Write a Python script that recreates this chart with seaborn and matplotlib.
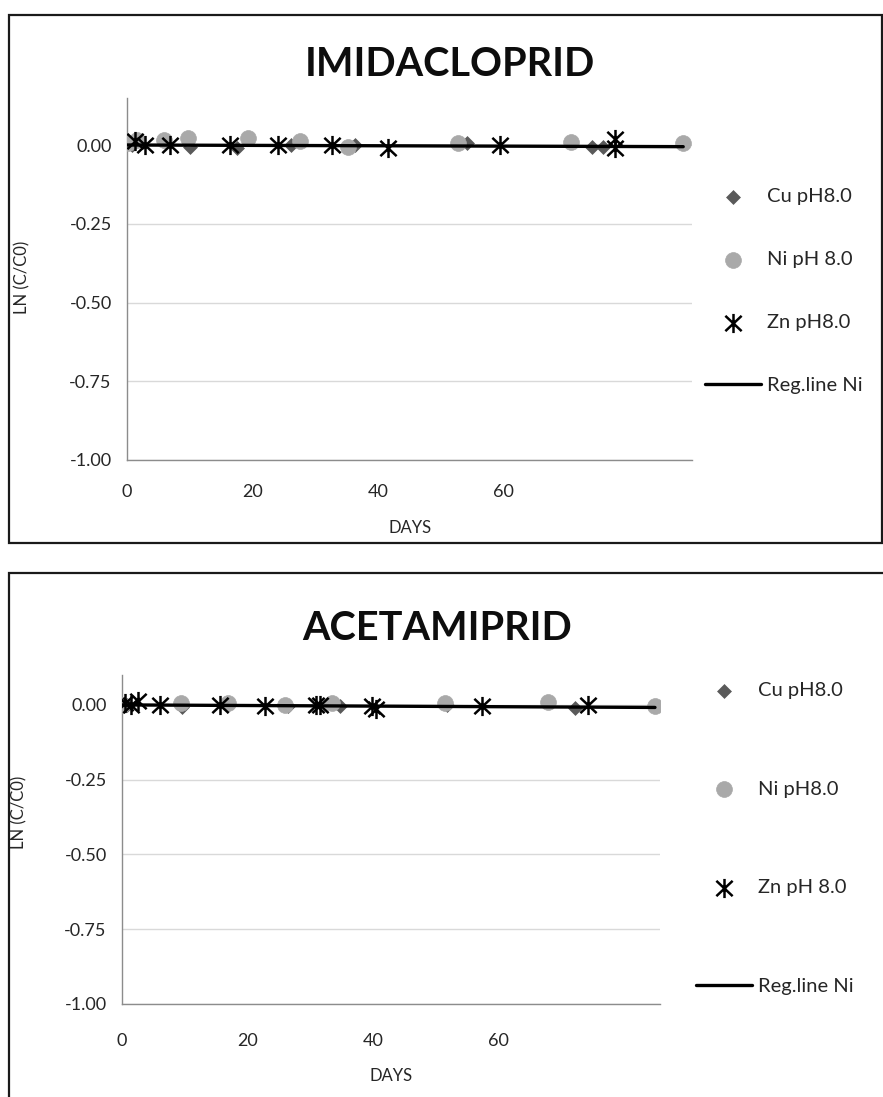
import numpy as np
import pandas as pd
import matplotlib
matplotlib.use("Agg")
import matplotlib.pyplot as plt
from matplotlib.path import Path
from matplotlib.patches import Rectangle
import seaborn as sns

# ---- IMIDACLOPRID: ln(C/C0) against time (days) ----
imi_cu_days = [0.8, 10.0, 17.6, 26.2, 36.3, 54.1, 74.0, 75.8]
imi_cu_ln = [0.0, -0.005, -0.010, 0.0, 0.0, 0.005, -0.005, -0.005]
imi_ni_days = [0.2, 1.6, 5.9, 9.7, 19.3, 27.5, 35.2, 52.7, 70.8, 88.6]
imi_ni_ln = [0.007, 0.015, 0.016, 0.022, 0.022, 0.013, -0.005, 0.007, 0.011, 0.005]
imi_zn_days = [1.3, 2.9, 6.8, 16.4, 24.1, 32.6, 41.6, 59.4, 77.7, 77.7]
imi_zn_ln = [0.013, 0.0, 0.0, 0.0, 0.0, 0.0, -0.010, 0.0, 0.020, -0.010]
imi_reg_intercept, imi_reg_slope = 0.0, -0.00006
imi_labels = ["Cu pH8.0", "Ni pH 8.0", "Zn pH8.0", "Reg.line Ni"]

# ---- ACETAMIPRID ----
ace_cu_days = [0.8, 9.6, 16.9, 26.4, 34.7, 51.8, 72.1]
ace_cu_ln = [0.0, -0.008, 0.0, -0.003, -0.003, 0.0, -0.010]
ace_ni_days = [0.0, 9.4, 16.9, 26.0, 33.4, 51.4, 67.9, 84.9]
ace_ni_ln = [0.0, 0.008, 0.005, 0.0, 0.005, 0.005, 0.010, -0.005]
ace_zn_days = [0.5, 1.4, 2.6, 6.1, 15.6, 22.8, 30.9, 31.5, 39.8, 40.4, 57.3, 74.3]
ace_zn_ln = [0.005, 0.0, 0.012, 0.0, 0.0, -0.005, 0.0, 0.0, -0.005, -0.015, -0.003, 0.0]
ace_reg_intercept, ace_reg_slope = 0.0, -0.0001
ace_labels = ["Cu pH8.0", "Ni pH8.0", "Zn pH 8.0", "Reg.line Ni"]

y_ticks = [-1.0, -0.75, -0.5, -0.25, 0.0]
x_ticks = [0, 20, 40, 60]

sns.set_theme(style="white")
plt.rcParams["font.family"] = ["Lato", "DejaVu Sans"]

W, H = 883, 1097
fig = plt.figure(figsize=(W / 100, H / 100), dpi=100)
fig.patch.set_facecolor("white")

TEXT = "#262626"
CU_COLOR = "#5a5a5a"
NI_COLOR = "#a9a9a9"
ZN_COLOR = "#000000"

# asterisk-like marker: vertical stroke plus an X
star = Path(
    [(0, -1), (0, 1), (-0.85, -0.8), (0.85, 0.8), (-0.85, 0.8), (0.85, -0.8)],
    [Path.MOVETO, Path.LINETO, Path.MOVETO, Path.LINETO, Path.MOVETO, Path.LINETO],
)


def px_axes(left, right, top, bottom):
    return fig.add_axes([left / W, 1 - bottom / H, (right - left) / W, (bottom - top) / H])


def draw_panel(ax, cu, ni, zn, reg, labels, xmax, ymax, legend_top, legend_left,
               spacing, xpad):
    cu_df = pd.DataFrame({"days": cu[0], "ln": cu[1]})
    ni_df = pd.DataFrame({"days": ni[0], "ln": ni[1]})
    zn_df = pd.DataFrame({"days": zn[0], "ln": zn[1]})
    sns.scatterplot(data=cu_df, x="days", y="ln", ax=ax, marker="D", s=50,
                    color=CU_COLOR, edgecolor=CU_COLOR, linewidth=0.5,
                    label=labels[0], zorder=3)
    sns.scatterplot(data=ni_df, x="days", y="ln", ax=ax, marker="o", s=130,
                    color=NI_COLOR, edgecolor=NI_COLOR, linewidth=0.5,
                    label=labels[1], zorder=4)
    sns.scatterplot(data=zn_df, x="days", y="ln", ax=ax, marker=star, s=190,
                    color=ZN_COLOR, edgecolor=ZN_COLOR, linewidth=1.8,
                    label=labels[2], zorder=5)
    reg_x = np.array([0.0, max(ni[0])])
    reg_df = pd.DataFrame({"days": reg_x, "ln": reg[0] + reg[1] * reg_x})
    sns.lineplot(data=reg_df, x="days", y="ln", ax=ax, color="black",
                 linewidth=2.4, label=labels[3], zorder=6)

    ax.set_xlim(0, xmax)
    ax.set_ylim(-1.0, ymax)
    ax.set_xticks(x_ticks)
    ax.set_xticklabels([str(v) for v in x_ticks])
    ax.set_yticks(y_ticks)
    ax.set_yticklabels([f"{v:.2f}" for v in y_ticks])
    ax.tick_params(axis="both", length=0, labelsize=13, colors=TEXT)
    ax.tick_params(axis="x", pad=xpad)
    ax.tick_params(axis="y", pad=11)
    ax.set_xlabel("")
    ax.set_ylabel("")
    ax.yaxis.grid(True, color="#d9d9d9", linewidth=1.0)
    ax.xaxis.grid(False)
    ax.set_axisbelow(True)
    for side in ("top", "right"):
        ax.spines[side].set_visible(False)
    for side in ("left", "bottom"):
        ax.spines[side].set_color("#8c8c8c")
        ax.spines[side].set_linewidth(1.0)
    ax.set_facecolor("none")

    handles, labs = ax.get_legend_handles_labels()
    ax.legend(handles, labs, loc="upper left",
              bbox_to_anchor=(legend_left / W, 1 - legend_top / H),
              bbox_transform=fig.transFigure, frameon=False,
              borderpad=0, borderaxespad=0, handlelength=2.8,
              handletextpad=0.3, labelspacing=spacing,
              prop={"size": 14.5}, labelcolor=TEXT)


# frames around each panel
fig.patches.append(Rectangle((9 / W, 1 - 543 / H), (882 - 9) / W, (543 - 15) / H,
                             transform=fig.transFigure, fill=False,
                             edgecolor="#1a1a1a", linewidth=1.6))
fig.patches.append(Rectangle((9 / W, 1 - 1200 / H), (1000 - 9) / W, (1200 - 573) / H,
                             transform=fig.transFigure, fill=False,
                             edgecolor="#1a1a1a", linewidth=1.6))

ax1 = px_axes(127, 692, 97.75, 460)
draw_panel(ax1, (imi_cu_days, imi_cu_ln), (imi_ni_days, imi_ni_ln),
           (imi_zn_days, imi_zn_ln), (imi_reg_intercept, imi_reg_slope),
           imi_labels, xmax=90, ymax=0.15, legend_top=188, legend_left=705,
           spacing=2.28, xpad=17.5)

ax2 = px_axes(122, 660, 675, 1004)
draw_panel(ax2, (ace_cu_days, ace_cu_ln), (ace_ni_days, ace_ni_ln),
           (ace_zn_days, ace_zn_ln), (ace_reg_intercept, ace_reg_slope),
           ace_labels, xmax=85.7, ymax=0.1, legend_top=682, legend_left=696,
           spacing=4.05, xpad=21)

# titles and axis captions
fig.text(450 / W, 1 - 65 / H, "IMIDACLOPRID", ha="center", va="center",
         fontsize=28.5, fontweight="bold", color="#0d0d0d")
fig.text(437 / W, 1 - 628 / H, "ACETAMIPRID", ha="center", va="center",
         fontsize=28.5, fontweight="bold", color="#0d0d0d")
fig.text(410 / W, 1 - 528 / H, "DAYS", ha="center", va="center", fontsize=12, color=TEXT)
fig.text(391 / W, 1 - 1076 / H, "DAYS", ha="center", va="center", fontsize=12, color=TEXT)
fig.text(22 / W, 1 - 277 / H, "LN (C/C0)", ha="center", va="center", rotation=90,
         fontsize=12, color=TEXT)
fig.text(19 / W, 1 - 812 / H, "LN (C/C0)", ha="center", va="center", rotation=90,
         fontsize=12, color=TEXT)

fig.savefig("out.png", dpi=100, facecolor="white")
